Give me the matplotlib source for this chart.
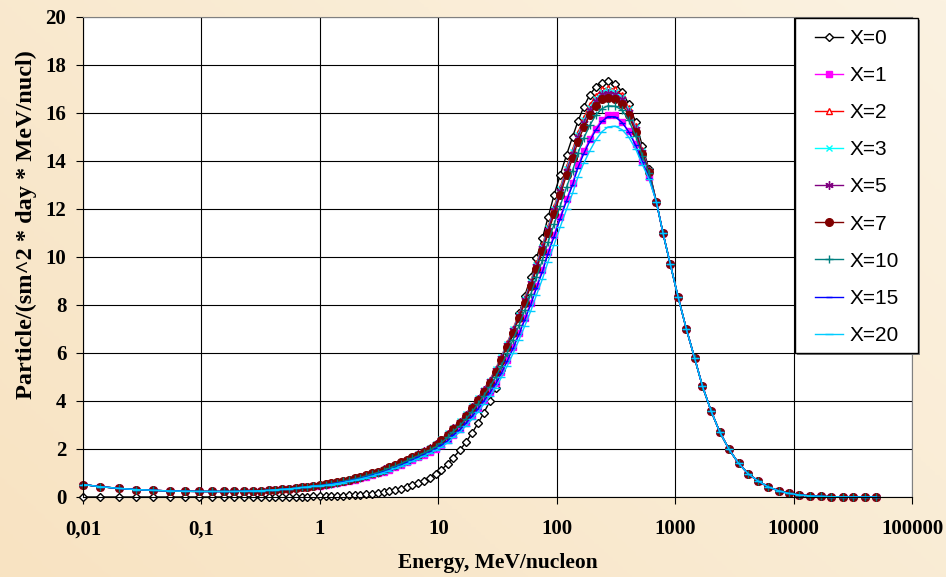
import matplotlib
matplotlib.use('Agg')
import matplotlib.pyplot as plt
import numpy as np
from matplotlib.colors import LinearSegmentedColormap
from matplotlib.patches import Rectangle

# energy grid, MeV/nucleon
energy = [0.01, 0.014, 0.02, 0.028, 0.039, 0.054, 0.072, 0.096, 0.123, 0.155,
          0.19, 0.228, 0.27, 0.316, 0.37, 0.42, 0.48, 0.55, 0.63, 0.71, 0.78, 0.88,
          1.0, 1.12, 1.25, 1.4, 1.57, 1.76, 1.97, 2.2, 2.46, 2.75, 3.08, 3.45, 3.86,
          4.32, 4.83, 5.4, 6.05, 6.77, 7.55,
          8.5, 9.5, 10.6, 12.0, 13.3, 15.2, 17.1, 19.3, 21.7, 24.2, 27.2, 30.5, 34.1,
          38.1, 42.8, 48.1, 53.7, 60.4, 67.5, 75.7, 84.5, 94.9, 107, 121, 136, 151,
          169, 190, 213, 241, 271, 312, 357, 405, 464, 529, 601, 694, 789, 910,
          1057, 1245, 1462, 1700, 2006, 2375, 2847, 3436, 4150, 5040, 6116, 7466,
          9120, 11220, 13800, 16980, 20900, 26000, 32000, 39800, 50000]

# below 1 MeV: X=0 is flat at zero, all X>=1 curves coincide
low_x0 = [0, 0, 0, 0, 0, 0, 0, 0, 0, 0, 0, 0, 0.005, 0.005, 0.01, 0.01, 0.01,
          0.015, 0.015, 0.02, 0.02, 0.025]
low_xn = [0.52, 0.43, 0.36, 0.31, 0.28, 0.25, 0.24, 0.23, 0.23, 0.23, 0.23,
          0.24, 0.25, 0.26, 0.28, 0.30, 0.32, 0.34, 0.37, 0.40, 0.42, 0.46]

# 1 .. 601 MeV, one list per depth X
mid_x0 = [0.03, 0.035, 0.04, 0.05, 0.06, 0.07, 0.08, 0.10, 0.12, 0.14, 0.17, 0.20,
          0.24, 0.29, 0.34, 0.41, 0.48, 0.57, 0.68,
          0.80, 0.96, 1.13, 1.38, 1.62, 1.95, 2.28, 2.67, 3.08, 3.50, 3.98, 4.55,
          5.30, 6.05, 6.85, 7.65, 8.38, 9.15, 9.95, 10.78, 11.65, 12.58, 13.42,
          14.25, 15.00, 15.65, 16.25, 16.75, 17.08, 17.27, 17.33, 17.22, 16.88,
          16.38, 15.62, 14.62, 13.65]
mid_x1 = [0.47, 0.50, 0.54, 0.58, 0.62, 0.67, 0.72, 0.78, 0.84, 0.91, 0.98, 1.06,
          1.14, 1.23, 1.33, 1.44, 1.55, 1.66, 1.77,
          1.88, 2.01, 2.17, 2.36, 2.60, 2.83, 3.10, 3.39, 3.72, 4.04, 4.39, 4.76,
          5.22, 5.71, 6.26, 6.85, 7.45, 8.10, 8.79, 9.46, 10.22, 10.92, 11.68,
          12.40, 13.07, 13.83, 14.40, 14.90, 15.35, 15.72, 15.92, 15.90, 15.62,
          15.25, 14.70, 14.00, 13.35]
mid_x2 = [0.49, 0.53, 0.57, 0.61, 0.66, 0.71, 0.77, 0.83, 0.90, 0.97, 1.05, 1.13,
          1.22, 1.32, 1.43, 1.54, 1.66, 1.77, 1.89,
          2.06, 2.22, 2.42, 2.67, 2.90, 3.18, 3.47, 3.81, 4.14, 4.50, 4.88, 5.35,
          5.85, 6.42, 7.02, 7.64, 8.30, 9.01, 9.74, 10.50, 11.26, 12.08, 12.89,
          13.76, 14.46, 15.17, 15.79, 16.32, 16.70, 16.98, 17.05, 16.98, 16.75,
          16.22, 15.45, 14.45, 13.60]
mid_x3 = [0.50, 0.54, 0.58, 0.62, 0.67, 0.72, 0.78, 0.84, 0.91, 0.98, 1.06, 1.14,
          1.23, 1.33, 1.44, 1.55, 1.67, 1.78, 1.90,
          2.04, 2.21, 2.40, 2.65, 2.88, 3.16, 3.45, 3.79, 4.12, 4.47, 4.85, 5.32,
          5.82, 6.38, 6.98, 7.59, 8.25, 8.96, 9.68, 10.43, 11.20, 12.01, 12.82,
          13.67, 14.38, 15.08, 15.69, 16.22, 16.60, 16.88, 16.95, 16.88, 16.67,
          16.15, 15.40, 14.42, 13.58]
mid_x5 = [0.50, 0.54, 0.58, 0.62, 0.67, 0.72, 0.78, 0.84, 0.91, 0.98, 1.06, 1.15,
          1.24, 1.34, 1.45, 1.56, 1.67, 1.78, 1.90,
          2.03, 2.20, 2.39, 2.63, 2.87, 3.14, 3.43, 3.77, 4.09, 4.45, 4.82, 5.29,
          5.78, 6.34, 6.94, 7.55, 8.21, 8.90, 9.62, 10.37, 11.13, 11.94, 12.74,
          13.59, 14.29, 14.99, 15.60, 16.13, 16.50, 16.78, 16.85, 16.78, 16.58,
          16.05, 15.32, 14.38, 13.57]
mid_x7 = [0.50, 0.54, 0.58, 0.62, 0.67, 0.72, 0.78, 0.84, 0.91, 0.98, 1.06, 1.14,
          1.23, 1.33, 1.44, 1.55, 1.66, 1.77, 1.88,
          2.01, 2.17, 2.36, 2.60, 2.83, 3.10, 3.39, 3.72, 4.04, 4.39, 4.76, 5.22,
          5.71, 6.26, 6.85, 7.45, 8.10, 8.79, 9.50, 10.24, 10.99, 11.79, 12.58,
          13.42, 14.11, 14.80, 15.40, 15.92, 16.29, 16.57, 16.63, 16.57, 16.38,
          15.90, 15.20, 14.30, 13.55]
mid_x10 = [0.49, 0.52, 0.56, 0.60, 0.65, 0.70, 0.75, 0.81, 0.88, 0.95, 1.02, 1.10,
           1.19, 1.28, 1.39, 1.50, 1.61, 1.72, 1.83,
           1.95, 2.09, 2.27, 2.48, 2.72, 2.97, 3.25, 3.56, 3.88, 4.22, 4.58, 4.99,
           5.47, 5.99, 6.56, 7.15, 7.78, 8.45, 9.15, 9.87, 10.61, 11.36, 12.13,
           12.91, 13.59, 14.32, 14.95, 15.48, 15.90, 16.18, 16.30, 16.28, 16.12,
           15.70, 15.05, 14.20, 13.50]
mid_x15 = [0.47, 0.50, 0.54, 0.58, 0.62, 0.67, 0.72, 0.77, 0.83, 0.90, 0.97, 1.05,
           1.13, 1.22, 1.32, 1.43, 1.54, 1.65, 1.76,
           1.87, 2.00, 2.15, 2.34, 2.57, 2.80, 3.07, 3.36, 3.68, 4.00, 4.34, 4.71,
           5.16, 5.65, 6.19, 6.78, 7.38, 8.02, 8.71, 9.38, 10.14, 10.84, 11.60,
           12.33, 13.00, 13.72, 14.30, 14.82, 15.28, 15.65, 15.85, 15.84, 15.60,
           15.22, 14.65, 13.95, 13.30]
mid_x20 = [0.46, 0.49, 0.52, 0.56, 0.60, 0.65, 0.70, 0.75, 0.81, 0.87, 0.94, 1.02,
           1.10, 1.19, 1.28, 1.38, 1.49, 1.60, 1.71,
           1.82, 1.94, 2.08, 2.26, 2.48, 2.70, 2.96, 3.24, 3.55, 3.86, 4.19, 4.55,
           4.98, 5.45, 5.98, 6.55, 7.12, 7.75, 8.42, 9.08, 9.80, 10.50, 11.25,
           11.98, 12.65, 13.33, 13.90, 14.42, 14.86, 15.22, 15.42, 15.45, 15.30,
           15.00, 14.50, 13.85, 13.25]

# above ~700 MeV every curve falls on the same line
tail_all = [12.30, 11.00, 9.70, 8.35, 6.99, 5.78, 4.62, 3.60, 2.72, 1.99, 1.40,
            0.96, 0.66, 0.42, 0.26, 0.15, 0.085, 0.045, 0.025, 0.013, 0.007,
            0.004, 0.002, 0.001]

x_ticks = [0.01, 0.1, 1, 10, 100, 1000, 10000, 100000]
x_ticklabels = ['0,01', '0,1', '1', '10', '100', '1000', '10000', '100000']
y_ticks = [0, 2, 4, 6, 8, 10, 12, 14, 16, 18, 20]

# label, low part, mid part, colour, marker, face, size
SERIES = [
  ('X=0', low_x0, mid_x0, '#000000', 'D', 'white', 4.0),
  ('X=1', low_xn, mid_x1, '#FF00FF', 's', '#FF00FF', 5.0),
  ('X=2', low_xn, mid_x2, '#FF0000', '^', 'white', 5.0),
  ('X=3', low_xn, mid_x3, '#00FFFF', 'x', '#00FFFF', 5.0),
  ('X=5', low_xn, mid_x5, '#800080', (6, 2, 0), '#800080', 6.0),
  ('X=7', low_xn, mid_x7, '#800000', 'o', '#800000', 5.5),
  ('X=10', low_xn, mid_x10, '#008080', '+', '#008080', 6.0),
  ('X=15', low_xn, mid_x15, '#0000FF', '_', '#0000FF', 5.0),
  ('X=20', low_xn, mid_x20, '#00CCFF', '_', '#00CCFF', 6.0),
]

W, H = 946, 577
fig = plt.figure(figsize=(W / 100, H / 100), dpi=100)


def px_box(x0, y0, x1, y1):
  """Figure-fraction [left, bottom, width, height] from pixel corners."""
  return [x0 / W, 1 - y1 / H, (x1 - x0) / W, (y1 - y0) / H]


# beige gradient backdrop
bg = fig.add_axes([0, 0, 1, 1], zorder=-10)
gx, gy = np.meshgrid(np.linspace(0, 1, 200), np.linspace(0, 1, 200))
cmap = LinearSegmentedColormap.from_list('bg', ['#F8E3C2', '#FBF2E1'])
bg.imshow(0.6 * gx + 0.4 * gy, cmap=cmap, origin='lower', aspect='auto',
          extent=[0, 1, 0, 1])
bg.axis('off')

ax = fig.add_axes(px_box(83, 17, 912, 497))
ax.set_facecolor('white')

for label, low, mid, color, marker, face, ms in SERIES:
  y = low + mid + tail_all
  ax.plot(energy, y, color=color, lw=1.0, marker=marker, ms=ms,
          mfc=face, mec=color, mew=1.0, label=label, clip_on=False)

ax.set_xscale('log')
ax.set_xlim(0.01, 100000)
ax.set_ylim(0, 20)
ax.set_xticks(x_ticks)
ax.set_xticklabels(x_ticklabels)
ax.set_yticks(y_ticks)
ax.minorticks_off()
ax.grid(True, color='black', lw=0.8)
ax.set_axisbelow(True)
for side in ('top', 'right'):
  ax.spines[side].set_color('#808080')
for side in ('left', 'bottom'):
  ax.spines[side].set_color('black')
ax.tick_params(direction='out', length=5, width=0.8, colors='black')
ax.tick_params(axis='x', pad=11)
ax.tick_params(axis='y', pad=7)

tick_font = matplotlib.font_manager.FontProperties(
  family='Liberation Serif', weight='bold', size=15)
for t in ax.get_xticklabels() + ax.get_yticklabels():
  t.set_fontproperties(tick_font)

ax.set_xlabel('Energy, MeV/nucleon', fontfamily='Liberation Serif',
              fontweight='bold', fontsize=15.5)
ax.set_ylabel('Particle/(sm^2 * day * MeV/nucl)', fontfamily='Liberation Serif',
              fontweight='bold', fontsize=17.5)
ax.xaxis.set_label_coords(0.5, -0.117)
ax.yaxis.set_label_coords(-0.055, 0.567)

# legend box drawn by hand so its size matches the Excel one
shadow = Rectangle((797 / W, 1 - 355 / H), 123 / W, 335 / H,
                   transform=fig.transFigure, facecolor='#7F7F7F',
                   edgecolor='none', zorder=3)
frame = Rectangle((795 / W, 1 - 353 / H), 123 / W, 335 / H,
                  transform=fig.transFigure, facecolor='white',
                  edgecolor='black', lw=1.0, zorder=4)
fig.patches.extend([shadow, frame])
handles, labels = ax.get_legend_handles_labels()
leg = fig.legend(handles, labels, loc='upper left',
                 bbox_to_anchor=(815 / W, 1 - 29 / H), frameon=False,
                 borderpad=0, borderaxespad=0,
                 prop=dict(family='Liberation Sans', size=15),
                 handlelength=1.35, handletextpad=0.3, labelspacing=0.87)
leg.set_zorder(5)

fig.savefig('out.png', dpi=100)
